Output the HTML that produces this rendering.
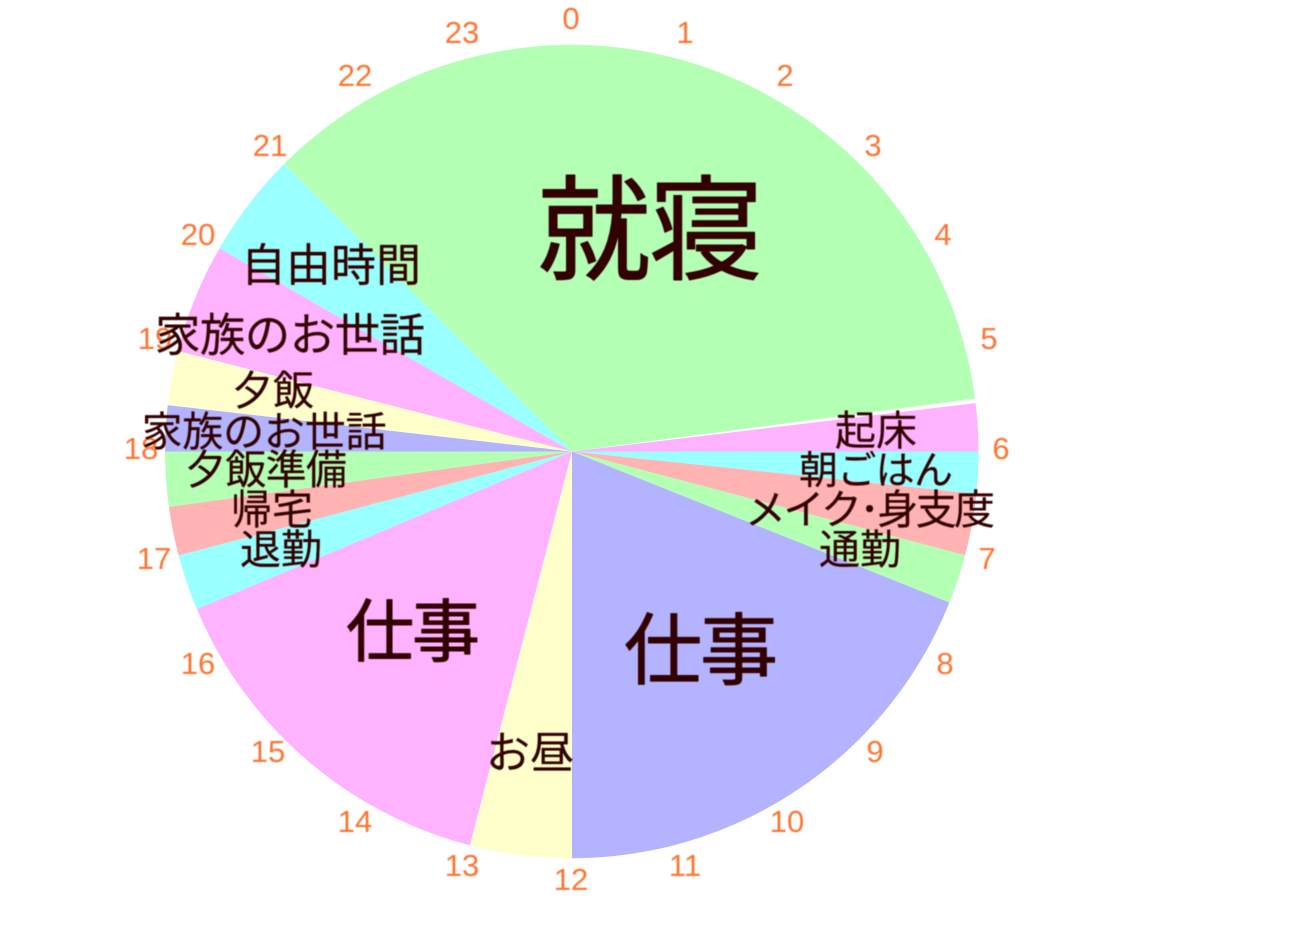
<!DOCTYPE html>
<html lang="ja">
<head>
<meta charset="utf-8">
<style>
html,body{margin:0;padding:0;background:#fff;width:1299px;height:944px;overflow:hidden}
svg{display:block}
.n{font-family:"Liberation Sans",sans-serif;font-size:31px;fill:#ff7430;text-anchor:middle}
.t{font-family:"Liberation Sans","Noto Sans CJK JP",sans-serif;font-weight:400;fill:#330000;text-anchor:middle;stroke:#330000;stroke-linejoin:round;stroke-linecap:round;stroke-width:.2}
.b{stroke-width:1}
</style>
</head>
<body>
<svg width="1299" height="944" viewBox="0 0 1299 944" xmlns="http://www.w3.org/2000/svg">
<defs>
<filter id="b" x="-5%" y="-5%" width="110%" height="110%"><feGaussianBlur stdDeviation="0.5"/></filter>
<clipPath id="c"><circle cx="571.8" cy="451.5" r="406.7"/></clipPath>
</defs>
<g clip-path="url(#c)">
<polygon fill="#b3ffb3" points="572,451.5 160,40 985,40 985,397.1"/>
<polygon fill="#ffb3ff" points="572,451.5 985,402 985,451.5"/>
<polygon fill="#99ffff" points="572,451.5 985,451.5 985,494.8"/>
<polygon fill="#ffb3b3" points="572,451.5 985,494.8 985,560.5"/>
<polygon fill="#b3ffb3" points="572,451.5 985,560.5 985,616.8"/>
<polygon fill="#b3b3ff" points="572,451.5 985,616.8 985,865 572,865"/>
<polygon fill="#ffffcc" points="572,451.5 572,865 464.8,865"/>
<polygon fill="#ffb3ff" points="572,451.5 464.8,865 160,865 160,624.5"/>
<polygon fill="#99ffff" points="572,451.5 160,624.5 160,560.3"/>
<polygon fill="#ffb3b3" points="572,451.5 160,560.3 160,508.1"/>
<polygon fill="#b3ffb3" points="572,451.5 160,508.1 160,451.5"/>
<polygon fill="#b3b3ff" points="572,451.5 160,451.5 160,404.2"/>
<polygon fill="#ffffcc" points="572,451.5 160,404.2 160,346.5"/>
<polygon fill="#ffb3ff" points="572,451.5 160,346.5 160,214"/>
<polygon fill="#99ffff" points="572,451.5 160,214 160,40"/>
</g>
<g filter="url(#b)">
<text class="n" x="571" y="29">0</text>
<text class="n" x="685" y="43">1</text>
<text class="n" x="785" y="86">2</text>
<text class="n" x="873" y="156">3</text>
<text class="n" x="943" y="245">4</text>
<text class="n" x="989" y="349">5</text>
<text class="n" x="1001" y="459">6</text>
<text class="n" x="987" y="569">7</text>
<text class="n" x="945" y="674">8</text>
<text class="n" x="875" y="762">9</text>
<text class="n" x="787" y="832">10</text>
<text class="n" x="685" y="876">11</text>
<text class="n" x="571" y="890">12</text>
<text class="n" x="462" y="876">13</text>
<text class="n" x="355" y="832">14</text>
<text class="n" x="268" y="762">15</text>
<text class="n" x="198" y="674">16</text>
<text class="n" x="154" y="569">17</text>
<text class="n" x="141" y="459">18</text>
<text class="n" x="155" y="349">19</text>
<text class="n" x="198" y="245">20</text>
<text class="n" x="270" y="156">21</text>
<text class="n" x="355" y="86">22</text>
<text class="n" x="462" y="43">23</text>
<text class="t b" x="650" y="271" font-size="114" textLength="226" lengthAdjust="spacing">就寝</text>
<text class="t b" x="701" y="678" font-size="78" textLength="154" lengthAdjust="spacing">仕事</text>
<text class="t b" x="413" y="656" font-size="68" textLength="134" lengthAdjust="spacing">仕事</text>
<text class="t" x="331" y="281" font-size="45" textLength="180" lengthAdjust="spacing">自由時間</text>
<text class="t" x="290" y="351" font-size="45.5" textLength="270" lengthAdjust="spacing">家族のお世話</text>
<text class="t" x="273" y="405" font-size="41" textLength="82" lengthAdjust="spacing">夕飯</text>
<text class="t" x="264" y="446" font-size="41" textLength="245" lengthAdjust="spacing">家族のお世話</text>
<text class="t" x="266" y="484" font-size="41" textLength="162" lengthAdjust="spacing">夕飯準備</text>
<text class="t" x="272" y="524" font-size="41" textLength="82" lengthAdjust="spacing">帰宅</text>
<text class="t" x="281" y="564" font-size="41" textLength="82" lengthAdjust="spacing">退勤</text>
<text class="t" x="530" y="768" font-size="44" textLength="88" lengthAdjust="spacing">お昼</text>
<text class="t" x="876" y="445" font-size="41" textLength="82" lengthAdjust="spacing">起床</text>
<text class="t" x="876" y="484" font-size="39" textLength="154" lengthAdjust="spacing">朝ごはん</text>
<text class="t" x="870" y="524" font-size="41" textLength="250" lengthAdjust="spacing">メイク･身支度</text>
<text class="t" x="860" y="564" font-size="41" textLength="82" lengthAdjust="spacing">通勤</text>
</g>
</svg>
</body>
</html>
